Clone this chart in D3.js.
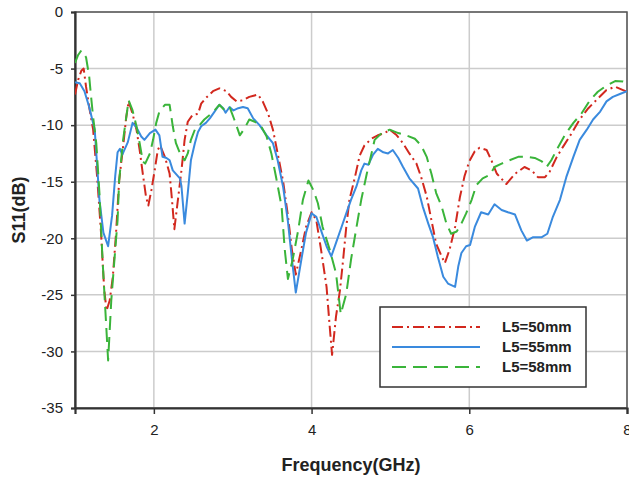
<!DOCTYPE html>
<html>
<head>
<meta charset="utf-8">
<script src="https://cdn.jsdelivr.net/npm/d3@7"></script>
<style>
body { margin: 0; background: #fff; }
text { font-family: "Liberation Sans", Arial, sans-serif; }
</style>
</head>
<body>
<div id="chart"></div>
<script>
var width = 629
var height = 479
var margin = {left: 75, right: 2, top: 12, bottom: 71}

// frequency (GHz) and S11 (dB) for each L5
var freq50 = [1.00,1.04,1.08,1.11,1.14,1.18,1.23,1.28,1.33,1.37,1.40,1.44,1.48,1.52,1.56,1.61,1.65,1.68,1.73,1.78,1.82,1.86,1.90,1.93,1.97,2.01,2.05,2.08,2.14,2.20,2.23,2.26,2.30,2.35,2.39,2.43,2.49,2.56,2.60,2.66,2.75,2.83,2.92,2.98,3.05,3.13,3.21,3.32,3.38,3.45,3.51,3.57,3.64,3.70,3.75,3.80,3.87,3.93,4.00,4.06,4.12,4.19,4.23,4.26,4.31,4.36,4.40,4.44,4.48,4.55,4.61,4.67,4.76,4.84,4.93,4.99,5.08,5.16,5.24,5.33,5.39,5.46,5.52,5.58,5.65,5.69,5.75,5.82,5.88,5.94,6.00,6.07,6.13,6.22,6.28,6.35,6.47,6.58,6.70,6.79,6.87,6.96,7.02,7.11,7.19,7.30,7.40,7.51,7.61,7.74,7.85,7.95,8.00]
var s50 = [-7.3,-6.0,-5.2,-5.0,-6.6,-8.4,-10.4,-14.5,-19.5,-24.5,-26.4,-25.5,-23.4,-19.6,-14.9,-11.9,-9.3,-7.9,-9.0,-10.4,-12.2,-14.3,-16.3,-17.1,-15.7,-14.0,-12.2,-11.8,-12.8,-14.3,-16.6,-19.2,-16.9,-14.0,-11.3,-9.7,-9.1,-9.0,-8.1,-7.6,-7.0,-6.75,-7.0,-7.5,-7.9,-7.8,-7.5,-7.3,-7.9,-9.0,-10.4,-12.5,-15.0,-18.0,-21.0,-23.2,-21.0,-19.0,-17.7,-18.4,-21.0,-24.3,-27.8,-30.3,-26.9,-24.6,-21.9,-19.0,-16.6,-14.6,-12.7,-11.8,-11.2,-10.9,-10.7,-10.4,-10.9,-11.6,-12.5,-13.4,-14.6,-16.3,-18.4,-20.5,-21.6,-22.2,-21.0,-19.0,-16.4,-14.5,-13.2,-12.3,-12.0,-12.2,-13.1,-14.3,-15.2,-14.3,-13.7,-14.0,-14.6,-14.6,-14.1,-12.8,-11.9,-10.7,-9.5,-8.5,-7.8,-6.9,-6.6,-6.9,-7.05]

var freq55 = [1.00,1.06,1.12,1.18,1.25,1.31,1.36,1.42,1.47,1.51,1.54,1.57,1.60,1.67,1.73,1.78,1.84,1.88,1.95,2.02,2.07,2.11,2.16,2.20,2.24,2.33,2.35,2.39,2.43,2.47,2.52,2.56,2.60,2.66,2.71,2.77,2.83,2.88,2.91,2.96,3.01,3.07,3.13,3.19,3.26,3.34,3.43,3.51,3.57,3.64,3.70,3.75,3.80,3.87,3.93,4.00,4.06,4.12,4.19,4.25,4.31,4.38,4.44,4.50,4.57,4.63,4.67,4.72,4.78,4.84,4.91,4.97,5.03,5.10,5.16,5.24,5.35,5.41,5.48,5.54,5.60,5.67,5.73,5.82,5.86,5.90,5.96,6.01,6.07,6.15,6.24,6.32,6.41,6.49,6.58,6.66,6.73,6.81,6.92,6.99,7.06,7.15,7.23,7.32,7.40,7.49,7.57,7.66,7.74,7.82,7.91,8.00]
var s55 = [-6.2,-6.3,-7.0,-8.4,-10.4,-16.6,-19.5,-20.7,-18.0,-14.5,-12.4,-12.1,-12.6,-11.5,-9.8,-10.2,-11.0,-11.3,-10.7,-10.4,-10.9,-12.8,-12.9,-13.1,-14.0,-14.7,-15.4,-18.7,-16.0,-13.1,-11.6,-10.6,-10.1,-9.8,-9.4,-8.8,-8.2,-8.5,-8.9,-8.4,-8.7,-8.5,-8.4,-8.5,-9.4,-10.0,-10.9,-11.6,-13.1,-15.5,-18.5,-21.8,-24.8,-21.9,-19.5,-17.8,-18.1,-19.3,-20.7,-21.6,-20.4,-19.0,-17.8,-16.6,-15.4,-14.0,-13.4,-13.5,-12.6,-12.1,-12.4,-12.5,-12.2,-12.9,-13.7,-14.7,-15.6,-17.2,-18.7,-19.9,-21.6,-23.4,-24.0,-24.3,-22.5,-21.3,-20.7,-20.6,-19.0,-17.7,-17.9,-17.0,-17.5,-17.7,-17.9,-19.3,-20.2,-19.9,-19.9,-19.6,-18.1,-16.6,-14.6,-12.8,-11.3,-10.4,-9.5,-8.8,-7.9,-7.5,-7.25,-7.0]

var freq58 = [1.00,1.04,1.08,1.14,1.18,1.20,1.23,1.27,1.31,1.35,1.39,1.42,1.46,1.50,1.54,1.56,1.61,1.65,1.68,1.73,1.78,1.82,1.86,1.89,1.95,1.99,2.03,2.07,2.14,2.20,2.24,2.28,2.35,2.39,2.43,2.47,2.52,2.58,2.64,2.71,2.77,2.83,2.90,2.96,3.02,3.09,3.15,3.21,3.28,3.36,3.43,3.49,3.55,3.62,3.66,3.70,3.76,3.83,3.89,3.96,4.02,4.08,4.14,4.23,4.31,4.37,4.44,4.50,4.57,4.63,4.70,4.76,4.80,4.89,4.99,5.10,5.20,5.31,5.39,5.46,5.52,5.58,5.65,5.71,5.77,5.84,5.90,5.96,6.03,6.09,6.17,6.26,6.32,6.41,6.51,6.62,6.73,6.83,6.92,6.98,7.04,7.13,7.21,7.32,7.42,7.53,7.63,7.74,7.85,7.95,8.00]
var s58 = [-4.5,-3.8,-3.4,-4.0,-5.7,-7.2,-9.3,-11.6,-16.0,-22.0,-27.0,-30.8,-25.5,-21.9,-18.4,-14.9,-11.3,-9.3,-7.8,-8.7,-10.1,-11.6,-13.2,-13.4,-12.5,-11.3,-9.8,-8.8,-8.2,-8.2,-10.1,-11.6,-12.8,-13.1,-12.5,-11.3,-10.4,-10.0,-9.5,-9.1,-8.7,-8.2,-8.7,-8.4,-9.5,-10.9,-10.3,-9.5,-9.7,-10.1,-11.0,-12.5,-14.6,-17.2,-21.0,-23.6,-21.9,-19.3,-16.6,-14.9,-15.7,-16.9,-19.0,-21.0,-23.1,-26.7,-24.9,-21.9,-19.0,-16.6,-14.3,-12.5,-11.3,-10.7,-10.4,-10.7,-10.9,-11.2,-11.8,-12.8,-14.3,-16.0,-17.2,-18.7,-19.6,-19.4,-18.7,-17.8,-16.6,-15.3,-14.7,-14.4,-13.7,-13.4,-13.1,-12.8,-12.8,-12.9,-13.2,-13.7,-13.1,-11.9,-10.9,-9.8,-9.0,-7.8,-7.05,-6.5,-6.1,-6.15,-6.35]

var names = ["L5=50mm", "L5=55mm", "L5=58mm"]
var colors = ["#d2281e", "#3a8ade", "#3ab43a"]
var dashes = ["11,4,2,4", null, "14,7"]
var xTicks = [2, 4, 6, 8]
var yTicks = [0, -5, -10, -15, -20, -25, -30, -35]

var series = [
  {name: names[0], f: freq50, v: s50},
  {name: names[1], f: freq55, v: s55},
  {name: names[2], f: freq58, v: s58}
]

var x = d3.scaleLinear().domain([1, 8]).range([margin.left, width - margin.right])
var y = d3.scaleLinear().domain([-35, 0]).range([height - margin.bottom, margin.top])

var svg = d3.select("#chart").append("svg")
  .attr("width", width)
  .attr("height", height)

// grid
svg.append("g")
  .selectAll("line").data(xTicks).enter().append("line")
  .attr("x1", d => x(d)).attr("x2", d => x(d))
  .attr("y1", y(0)).attr("y2", y(-35))
  .attr("stroke", "#cccccc").attr("stroke-width", 1.5)
svg.append("g")
  .selectAll("line").data(yTicks).enter().append("line")
  .attr("x1", x(1)).attr("x2", x(8))
  .attr("y1", d => y(d)).attr("y2", d => y(d))
  .attr("stroke", "#cccccc").attr("stroke-width", 1.5)

// frame
svg.append("rect")
  .attr("x", x(1)).attr("y", y(0))
  .attr("width", x(8) - x(1)).attr("height", y(-35) - y(0))
  .attr("fill", "none").attr("stroke", "#555").attr("stroke-width", 1.5)

// axes
var xAxis = svg.append("g")
  .attr("transform", "translate(0," + y(-35) + ")")
  .call(d3.axisBottom(x).tickValues(xTicks).tickSize(6).tickPadding(10).tickFormat(d3.format("d")))
var yAxis = svg.append("g")
  .attr("transform", "translate(" + x(1) + ",0)")
  .call(d3.axisLeft(y).tickValues(yTicks).tickSize(4).tickPadding(8).tickFormat(d3.format("d")))
;[xAxis, yAxis].forEach(function(a) {
  a.select(".domain").attr("stroke", "#333").attr("stroke-width", 2.2)
  a.selectAll(".tick line").attr("stroke", "#333").attr("stroke-width", 1.5)
  a.selectAll(".tick text")
    .style("font-family", "'Liberation Sans', Arial, sans-serif")
    .style("font-size", "15px").attr("fill", "#222")
})
yAxis.selectAll(".tick text").text(d => d == 0 ? "0" : "-" + Math.abs(d))

// clip
svg.append("clipPath").attr("id", "clip")
  .append("rect")
  .attr("x", x(1)).attr("y", y(0))
  .attr("width", x(8) - x(1)).attr("height", y(-35) - y(0))

var line = d3.line()
  .x(d => x(d[0]))
  .y(d => y(d[1]))

var plot = svg.append("g").attr("clip-path", "url(#clip)")
series.forEach(function(s, i) {
  plot.append("path")
    .datum(s.f.map((f, j) => [f, s.v[j]]))
    .attr("d", line)
    .attr("fill", "none")
    .attr("stroke", colors[i])
    .attr("stroke-width", 2)
    .attr("stroke-linejoin", "round")
    .attr("stroke-dasharray", dashes[i])
})

// legend
var leg = svg.append("g").attr("transform", "translate(380,307)")
leg.append("rect")
  .attr("width", 206).attr("height", 80)
  .attr("fill", "#fff").attr("stroke", "#333").attr("stroke-width", 1.5)
names.forEach(function(n, i) {
  var ly = 20 + i * 20
  leg.append("line")
    .attr("x1", 12).attr("x2", 100)
    .attr("y1", ly).attr("y2", ly)
    .attr("stroke", colors[i]).attr("stroke-width", 2)
    .attr("stroke-dasharray", dashes[i])
  leg.append("text")
    .attr("x", 122).attr("y", ly + 5)
    .style("font-size", "15px").style("font-weight", "bold")
    .attr("fill", "#222")
    .text(n)
})

// axis titles
svg.append("text")
  .attr("transform", "translate(25," + ((y(0) + y(-35)) / 2) + ") rotate(-90)")
  .attr("text-anchor", "middle")
  .style("font-size", "18px").style("font-weight", "bold")
  .attr("fill", "#222")
  .text("S11(dB)")
svg.append("text")
  .attr("x", (x(1) + x(8)) / 2)
  .attr("y", 471)
  .attr("text-anchor", "middle")
  .style("font-size", "18px").style("font-weight", "bold")
  .attr("fill", "#222")
  .text("Frequency(GHz)")
</script>
</body>
</html>
